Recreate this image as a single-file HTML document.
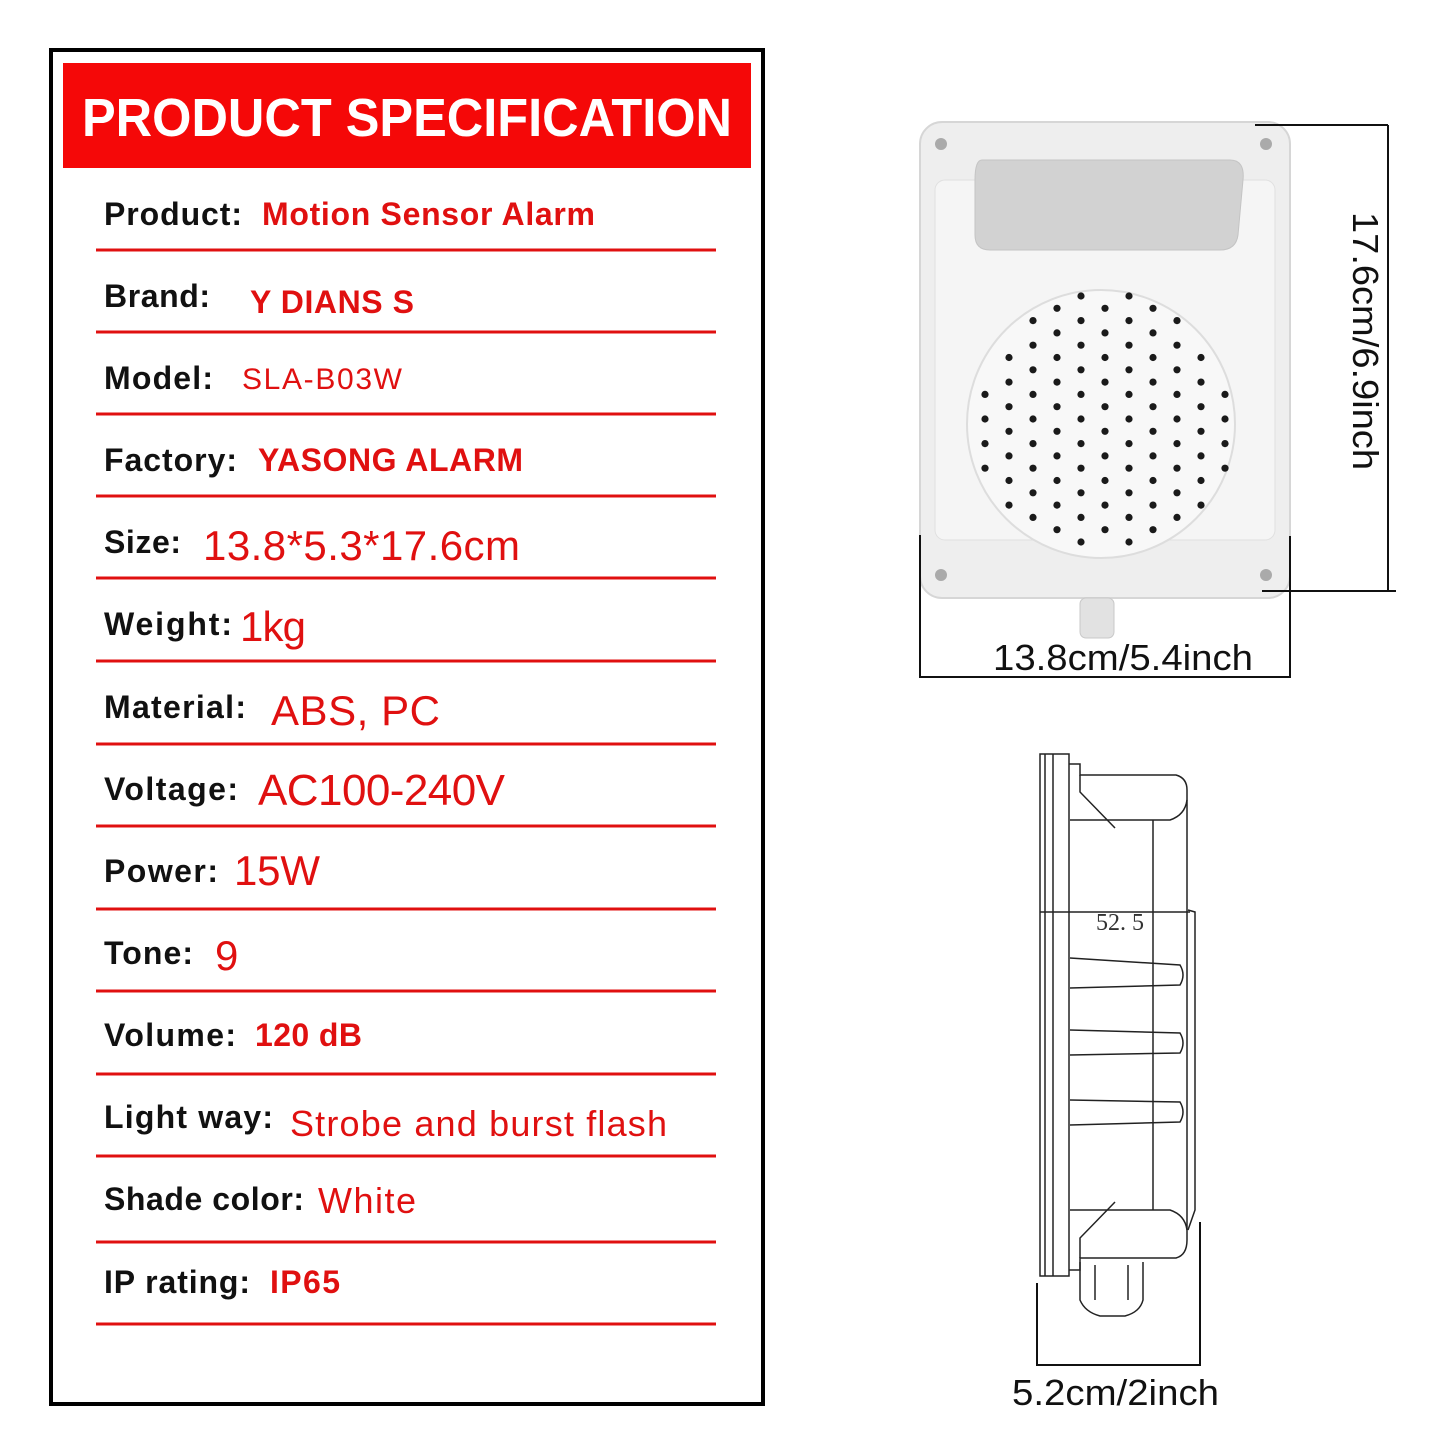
<!DOCTYPE html>
<html><head><meta charset="utf-8"><style>html,body{margin:0;padding:0;background:#fff}svg{display:block}</style></head>
<body>
<svg width="1445" height="1445" viewBox="0 0 1445 1445" xmlns="http://www.w3.org/2000/svg" xmlns:xlink="http://www.w3.org/1999/xlink" font-family="Liberation Sans, sans-serif">
<defs>
<g id="cA" fill="#1a1a1a"><circle cx="0" cy="394.4" r="3.6"/><circle cx="0" cy="419" r="3.6"/><circle cx="0" cy="443.6" r="3.6"/><circle cx="0" cy="468.2" r="3.6"/></g>
<g id="cB" fill="#1a1a1a"><circle cx="0" cy="357.5" r="3.6"/><circle cx="0" cy="382.1" r="3.6"/><circle cx="0" cy="406.7" r="3.6"/><circle cx="0" cy="431.3" r="3.6"/><circle cx="0" cy="455.9" r="3.6"/><circle cx="0" cy="480.5" r="3.6"/><circle cx="0" cy="505.1" r="3.6"/></g>
<g id="cC" fill="#1a1a1a"><circle cx="0" cy="320.6" r="3.6"/><circle cx="0" cy="345.2" r="3.6"/><circle cx="0" cy="369.8" r="3.6"/><circle cx="0" cy="394.4" r="3.6"/><circle cx="0" cy="419" r="3.6"/><circle cx="0" cy="443.6" r="3.6"/><circle cx="0" cy="468.2" r="3.6"/><circle cx="0" cy="492.8" r="3.6"/><circle cx="0" cy="517.4" r="3.6"/></g>
<g id="cD" fill="#1a1a1a"><circle cx="0" cy="308.3" r="3.6"/><circle cx="0" cy="332.9" r="3.6"/><circle cx="0" cy="357.5" r="3.6"/><circle cx="0" cy="382.1" r="3.6"/><circle cx="0" cy="406.7" r="3.6"/><circle cx="0" cy="431.3" r="3.6"/><circle cx="0" cy="455.9" r="3.6"/><circle cx="0" cy="480.5" r="3.6"/><circle cx="0" cy="505.1" r="3.6"/><circle cx="0" cy="529.7" r="3.6"/></g>
<g id="cE" fill="#1a1a1a"><circle cx="0" cy="296" r="3.6"/><circle cx="0" cy="320.6" r="3.6"/><circle cx="0" cy="345.2" r="3.6"/><circle cx="0" cy="369.8" r="3.6"/><circle cx="0" cy="394.4" r="3.6"/><circle cx="0" cy="419" r="3.6"/><circle cx="0" cy="443.6" r="3.6"/><circle cx="0" cy="468.2" r="3.6"/><circle cx="0" cy="492.8" r="3.6"/><circle cx="0" cy="517.4" r="3.6"/><circle cx="0" cy="542" r="3.6"/></g>
</defs>
<rect x="0" y="0" width="1445" height="1445" fill="#fff"/>
<rect x="51" y="50" width="712" height="1354" fill="none" stroke="#000" stroke-width="4"/>
<rect x="63" y="63" width="688" height="105" fill="#f50808"/>
<text x="82" y="136" font-size="54" font-weight="bold" fill="#fff" textLength="650" lengthAdjust="spacingAndGlyphs">PRODUCT SPECIFICATION</text>
<g stroke="#e01010" stroke-width="3">
<line x1="96" y1="250" x2="716" y2="250"/><line x1="96" y1="332" x2="716" y2="332"/><line x1="96" y1="414" x2="716" y2="414"/><line x1="96" y1="496" x2="716" y2="496"/><line x1="96" y1="578" x2="716" y2="578"/><line x1="96" y1="661" x2="716" y2="661"/><line x1="96" y1="744" x2="716" y2="744"/><line x1="96" y1="826" x2="716" y2="826"/><line x1="96" y1="909" x2="716" y2="909"/><line x1="96" y1="991" x2="716" y2="991"/><line x1="96" y1="1074" x2="716" y2="1074"/><line x1="96" y1="1156" x2="716" y2="1156"/><line x1="96" y1="1242" x2="716" y2="1242"/><line x1="96" y1="1324" x2="716" y2="1324"/>
</g>
<g font-size="32" font-weight="bold" fill="#111" lengthAdjust="spacingAndGlyphs">
<text x="104" y="225" textLength="138">Product:</text>
<text x="104" y="307" textLength="106">Brand:</text>
<text x="104" y="389" textLength="109">Model:</text>
<text x="104" y="471" textLength="133">Factory:</text>
<text x="104" y="553" textLength="77">Size:</text>
<text x="104" y="635" textLength="128">Weight:</text>
<text x="104" y="718" textLength="142">Material:</text>
<text x="104" y="800" textLength="134">Voltage:</text>
<text x="104" y="882" textLength="114">Power:</text>
<text x="104" y="964" textLength="89">Tone:</text>
<text x="104" y="1046" textLength="132">Volume:</text>
<text x="104" y="1128" textLength="169">Light way:</text>
<text x="104" y="1210" textLength="200">Shade color:</text>
<text x="104" y="1293" textLength="146">IP rating:</text>
</g>
<g fill="#e01010" lengthAdjust="spacingAndGlyphs">
<text x="262" y="225" font-size="32" font-weight="bold" textLength="333">Motion Sensor Alarm</text>
<text x="250" y="313" font-size="32" font-weight="bold" textLength="164">Y DIANS S</text>
<text x="242" y="389" font-size="30" textLength="160">SLA-B03W</text>
<text x="258" y="471" font-size="32" font-weight="bold" textLength="265">YASONG ALARM</text>
<text x="203" y="560" font-size="42" textLength="317">13.8*5.3*17.6cm</text>
<text x="240" y="641" font-size="42" textLength="66">1kg</text>
<text x="271" y="725" font-size="42" textLength="169">ABS, PC</text>
<text x="258" y="805" font-size="44" textLength="247">AC100-240V</text>
<text x="234" y="885" font-size="42" textLength="86">15W</text>
<text x="215" y="970" font-size="42" textLength="25">9</text>
<text x="255" y="1046" font-size="32" font-weight="bold" textLength="107">120 dB</text>
<text x="290" y="1136" font-size="36" textLength="377">Strobe and burst flash</text>
<text x="318" y="1213" font-size="36" textLength="98">White</text>
<text x="270" y="1293" font-size="32" font-weight="bold" textLength="70">IP65</text>
</g>

<!-- device front -->
<rect x="920" y="122" width="370" height="476" rx="22" fill="#eeeeee" stroke="#d6d6d6" stroke-width="2"/>
<rect x="935" y="180" width="340" height="360" rx="10" fill="#f5f5f5" stroke="#e0e0e0"/>
<path d="M982 160 H1230 Q1245 160 1243 180 L1238 235 Q1236 250 1220 250 H990 Q975 250 975 235 L975 180 Q975 160 982 160 Z" fill="#d2d2d2" stroke="#c4c4c4"/>
<circle cx="941" cy="144" r="6" fill="#aaa"/><circle cx="1266" cy="144" r="6" fill="#aaa"/>
<circle cx="941" cy="575" r="6" fill="#aaa"/><circle cx="1266" cy="575" r="6" fill="#aaa"/>
<circle cx="1101" cy="424" r="134" fill="#f8f8f8" stroke="#dddddd" stroke-width="2"/>
<rect x="1080" y="598" width="34" height="40" rx="6" fill="#e2e2e2" stroke="#c8c8c8"/>
<use xlink:href="#cA" x="985"/><use xlink:href="#cB" x="1009"/><use xlink:href="#cC" x="1033"/><use xlink:href="#cD" x="1057"/><use xlink:href="#cE" x="1081"/>
<use xlink:href="#cD" x="1105"/>
<use xlink:href="#cE" x="1129"/><use xlink:href="#cD" x="1153"/><use xlink:href="#cC" x="1177"/><use xlink:href="#cB" x="1201"/><use xlink:href="#cA" x="1225"/>
<g stroke="#111" stroke-width="2" fill="none">
<line x1="1255" y1="125" x2="1388" y2="125"/><line x1="1388" y1="125" x2="1388" y2="591"/><line x1="1262" y1="591" x2="1396" y2="591"/>
<line x1="920" y1="535" x2="920" y2="678"/><line x1="920" y1="677" x2="1290" y2="677"/><line x1="1290" y1="536" x2="1290" y2="678"/>
</g>
<text x="993" y="670" font-size="36" fill="#111" textLength="260" lengthAdjust="spacingAndGlyphs">13.8cm/5.4inch</text>
<text transform="translate(1353,212) rotate(90)" font-size="36" fill="#111" textLength="258" lengthAdjust="spacingAndGlyphs">17.6cm/6.9inch</text>

<!-- side drawing -->
<g stroke="#222" stroke-width="1.5" fill="none">
<rect x="1040" y="754" width="29" height="522"/>
<line x1="1045" y1="754" x2="1045" y2="1276"/><line x1="1053" y1="754" x2="1053" y2="1276"/>
<path d="M1069 764 H1080 V775 H1176 Q1187 778 1187 790 V1240 Q1187 1255 1176 1258 H1080 V1270 H1069"/>
<path d="M1080 775 V792 L1115 828 M1080 1258 V1238 L1115 1202"/>
<path d="M1070 820 H1170 Q1185 815 1187 800 M1070 1210 H1170 Q1185 1215 1187 1230"/>
<line x1="1153" y1="820" x2="1153" y2="1210"/>
<path d="M1070 958 L1180 965 Q1186 975 1180 985 L1070 988"/>
<path d="M1070 1030 L1180 1033 Q1186 1043 1180 1053 L1070 1055"/>
<path d="M1070 1100 L1180 1102 Q1186 1112 1180 1122 L1070 1125"/>
<line x1="1040" y1="912" x2="1190" y2="912"/>
<path d="M1188 910 L1195 912 V1210 L1188 1230"/>
<path d="M1080 1262 V1300 Q1085 1312 1100 1316 H1125 Q1140 1312 1143 1300 V1262"/>
<line x1="1095" y1="1265" x2="1095" y2="1300"/><line x1="1128" y1="1265" x2="1128" y2="1300"/>
</g>
<text x="1096" y="930" font-size="24" fill="#333" font-family="Liberation Serif, serif">52. 5</text>
<g stroke="#111" stroke-width="2">
<line x1="1037" y1="1283" x2="1037" y2="1366"/><line x1="1200" y1="1222" x2="1200" y2="1366"/><line x1="1037" y1="1365" x2="1200" y2="1365"/>
</g>
<text x="1012" y="1405" font-size="36" fill="#111" textLength="207" lengthAdjust="spacingAndGlyphs">5.2cm/2inch</text>
</svg>
</body></html>
